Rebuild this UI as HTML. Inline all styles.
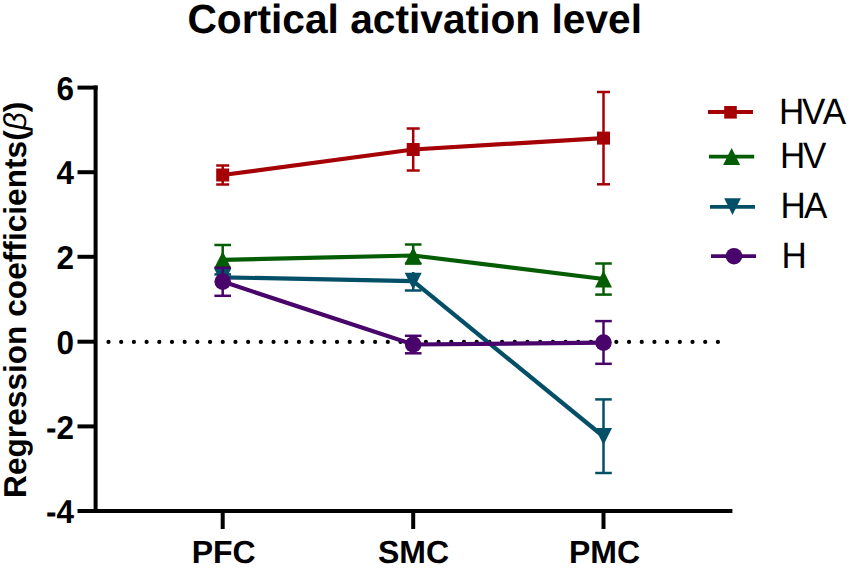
<!DOCTYPE html>
<html>
<head>
<meta charset="utf-8">
<style>
html,body{margin:0;padding:0;background:#fff;}
body{width:850px;height:568px;overflow:hidden;}
svg{display:block;}
text{font-family:"Liberation Sans",sans-serif;text-rendering:geometricPrecision;}
</style>
</head>
<body>
<svg width="850" height="568" viewBox="0 0 850 568">
<!-- title -->
<text x="414.7" y="33.3" font-size="40.7" font-weight="bold" text-anchor="middle" fill="#000">Cortical activation level</text>

<!-- y axis label -->
<text transform="translate(25.5,299.8) rotate(-90)" font-size="31.67" font-weight="bold" text-anchor="middle" fill="#000">Regression coefficients(<tspan font-weight="normal" font-style="italic">β</tspan>)</text>

<!-- axes -->
<g stroke="#000" stroke-width="4" fill="none">
  <line x1="95.6" y1="85.6" x2="95.6" y2="513"/>
  <line x1="77.5" y1="511" x2="732.4" y2="511"/>
  <line x1="77.5" y1="87.6" x2="97.6" y2="87.6"/>
  <line x1="77.5" y1="172.2" x2="95.6" y2="172.2"/>
  <line x1="77.5" y1="256.8" x2="95.6" y2="256.8"/>
  <line x1="77.5" y1="341.7" x2="95.6" y2="341.7"/>
  <line x1="77.5" y1="426.4" x2="95.6" y2="426.4"/>
  <line x1="222.7" y1="511" x2="222.7" y2="529"/>
  <line x1="413.2" y1="511" x2="413.2" y2="529"/>
  <line x1="603.5" y1="511" x2="603.5" y2="529"/>
</g>

<!-- y tick labels -->
<g font-size="31.5" font-weight="bold" text-anchor="end" fill="#000">
  <text transform="translate(74.0,100.3) scale(1,1.05)">6</text>
  <text transform="translate(74.0,184.4) scale(1,1.05)">4</text>
  <text transform="translate(74.0,269.4) scale(1,1.05)">2</text>
  <text transform="translate(74.0,354.1) scale(1,1.05)">0</text>
  <text transform="translate(74.0,438.7) scale(1,1.05)">-2</text>
  <text transform="translate(74.0,523.0) scale(1,1.05)">-4</text>
</g>

<!-- x tick labels -->
<g font-size="32" font-weight="bold" text-anchor="middle" fill="#000">
  <text x="223.7" y="563">PFC</text>
  <text x="413.5" y="563">SMC</text>
  <text x="604.5" y="563">PMC</text>
</g>

<!-- zero dotted line -->
<line x1="108.5" y1="341.9" x2="720" y2="341.9" stroke="#000" stroke-width="4.2" stroke-linecap="round" stroke-dasharray="0 12.696"/>

<!-- HVA red -->
<g stroke="#A60007" fill="#A60007">
  <polyline points="222.7,175 413.2,149.5 603.5,138.1" fill="none" stroke-width="4.2"/>
  <g stroke-width="2.5">
    <line x1="222.7" y1="165.5" x2="222.7" y2="184.5"/>
    <line x1="216.2" y1="165.5" x2="229.2" y2="165.5"/>
    <line x1="216.2" y1="184.5" x2="229.2" y2="184.5"/>
    <line x1="413.2" y1="128.5" x2="413.2" y2="170.5"/>
    <line x1="406.7" y1="128.5" x2="419.7" y2="128.5"/>
    <line x1="406.7" y1="170.5" x2="419.7" y2="170.5"/>
    <line x1="603.5" y1="92" x2="603.5" y2="184.3"/>
    <line x1="597" y1="92" x2="610" y2="92"/>
    <line x1="597" y1="184.3" x2="610" y2="184.3"/>
  </g>
  <rect x="216.2" y="168.5" width="13" height="13" stroke="none"/>
  <rect x="406.7" y="143" width="13" height="13" stroke="none"/>
  <rect x="597" y="131.6" width="13" height="13" stroke="none"/>
</g>

<!-- HV green -->
<g stroke="#045D04" fill="#045D04">
  <polyline points="222.7,259.8 413.2,255.5 603.5,279" fill="none" stroke-width="4.2"/>
  <g stroke-width="2.5">
    <line x1="222.7" y1="245" x2="222.7" y2="259.8"/>
    <line x1="214.4" y1="245" x2="231" y2="245"/>
    <line x1="413.2" y1="244.5" x2="413.2" y2="263.8"/>
    <line x1="404.9" y1="244.5" x2="421.5" y2="244.5"/>
    <line x1="404.9" y1="263.6" x2="421.5" y2="263.6"/>
    <line x1="603.5" y1="263.5" x2="603.5" y2="294.6"/>
    <line x1="595.2" y1="263.5" x2="611.8" y2="263.5"/>
    <line x1="595.2" y1="294.6" x2="611.8" y2="294.6"/>
  </g>
  <g stroke="none">
    <polygon points="222.7,251.3 231.2,268.3 214.2,268.3"/>
    <polygon points="413.2,247 421.7,264 404.7,264"/>
    <polygon points="603.5,270.5 612,287.5 595,287.5"/>
  </g>
</g>

<!-- HA teal -->
<g stroke="#044F68" fill="#044F68">
  <polyline points="222.7,277.3 413.2,281.2 603.5,436.5" fill="none" stroke-width="4.2"/>
  <g stroke-width="2.5">
    <line x1="214.4" y1="274.4" x2="231" y2="274.4"/>
    <line x1="413.2" y1="272" x2="413.2" y2="290.5"/>
    <line x1="404.9" y1="290.5" x2="421.5" y2="290.5"/>
    <line x1="603.5" y1="399.4" x2="603.5" y2="473"/>
    <line x1="595.2" y1="399.4" x2="611.8" y2="399.4"/>
    <line x1="595.2" y1="473" x2="611.8" y2="473"/>
  </g>
  <g stroke="none">
    <polygon points="214.2,268.8 231.2,268.8 222.7,285.8"/>
    <polygon points="404.7,272.7 421.7,272.7 413.2,289.7"/>
    <polygon points="595,428 612,428 603.5,445"/>
  </g>
</g>

<!-- H purple -->
<g stroke="#48046A" fill="#48046A">
  <polyline points="222.7,281.6 413.2,344.5 603.5,342.6" fill="none" stroke-width="4.2"/>
  <g stroke-width="2.5">
    <line x1="222.7" y1="267.8" x2="222.7" y2="295.8"/>
    <line x1="214.4" y1="267.8" x2="231" y2="267.8"/>
    <line x1="214.4" y1="295.8" x2="231" y2="295.8"/>
    <line x1="413.2" y1="335.8" x2="413.2" y2="353.3"/>
    <line x1="404.9" y1="335.8" x2="421.5" y2="335.8"/>
    <line x1="404.9" y1="353.3" x2="421.5" y2="353.3"/>
    <line x1="603.5" y1="321.1" x2="603.5" y2="363.8"/>
    <line x1="595.2" y1="321.1" x2="611.8" y2="321.1"/>
    <line x1="595.2" y1="363.8" x2="611.8" y2="363.8"/>
  </g>
  <g stroke="none">
    <circle cx="222.7" cy="281.6" r="8.3"/>
    <circle cx="413.2" cy="344.5" r="8.3"/>
    <circle cx="603.5" cy="342.6" r="8.3"/>
  </g>
</g>

<!-- legend -->
<g stroke-width="3.8">
  <line x1="708" y1="112" x2="753" y2="112" stroke="#A60007"/>
  <rect x="724.2" y="106" width="12.6" height="12.6" fill="#A60007" stroke="none"/>
  <line x1="709" y1="156.6" x2="754.2" y2="156.6" stroke="#045D04"/>
  <polygon points="731.6,148.1 740.1,165.1 723.1,165.1" fill="#045D04" stroke="none"/>
  <line x1="710" y1="206.8" x2="755" y2="206.8" stroke="#044F68"/>
  <polygon points="724.2,198.3 740.9,198.3 732.5,215" fill="#044F68" stroke="none"/>
  <line x1="711" y1="256.2" x2="756" y2="256.2" stroke="#48046A"/>
  <circle cx="734" cy="256.2" r="8.3" fill="#48046A" stroke="none"/>
</g>
<g font-size="35" fill="#000">
  <text transform="translate(779,123.7) scale(1,1.045)">H<tspan dx="-2.4">V</tspan><tspan dx="0.2">A</tspan></text>
  <text transform="translate(780,168.3) scale(1,1.045)">H<tspan dx="-2.4">V</tspan></text>
  <text transform="translate(780.5,218.4) scale(1,1.045)">H<tspan dx="-1.9">A</tspan></text>
  <text transform="translate(781.5,267.7) scale(1,1.045)">H</text>
</g>
</svg>
</body>
</html>
